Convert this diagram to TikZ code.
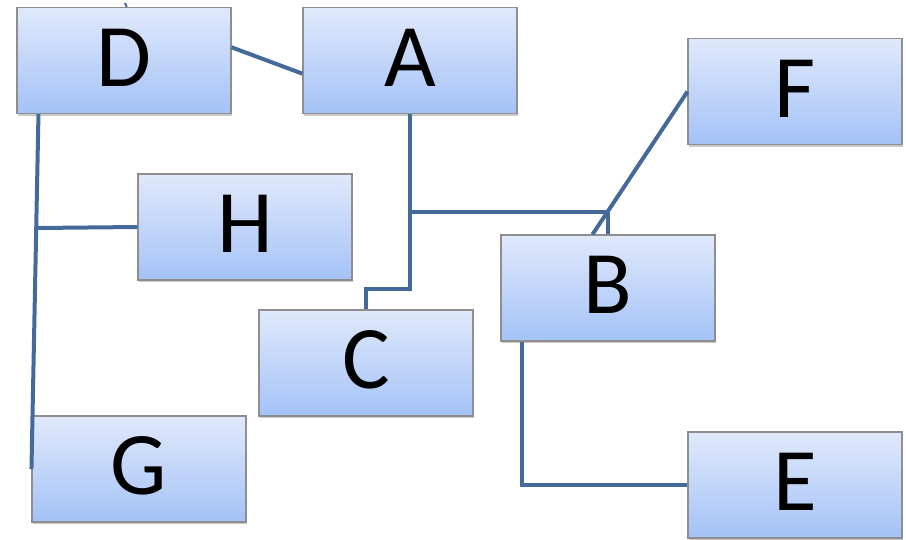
\documentclass[tikz,border=0pt]{standalone}
\usepackage{fontspec}
\setmainfont{Carlito}
\usetikzlibrary{shadows}
\definecolor{linec}{HTML}{44699B}
\definecolor{boxtop}{HTML}{E0E9FB}
\definecolor{boxbot}{HTML}{A4C2F7}
\definecolor{boxborder}{HTML}{8E8E8E}
\tikzset{
  box/.style={draw=boxborder, line width=0.8pt, top color=boxtop, bottom color=boxbot,
    minimum width=160.5pt, minimum height=79.5pt, inner sep=0pt, text depth=4.5pt,
    font=\fontsize{67}{67}\selectfont,
    drop shadow={opacity=0.35, shadow xshift=1pt, shadow yshift=-1.5pt, fill=black!60}},
  conn/.style={draw=linec, line width=3pt},
}
\begin{document}
\begin{tikzpicture}[x=0.75pt,y=-0.75pt]
\useasboundingbox (0,0) rectangle (906,539);
\node[box] (D) at (124,60.5) {D};
\node[box] (A) at (410,60.5) {A};
\node[box] (F) at (795,91.5) {F};
\node[box] (H) at (245,227) {H};
\node[box] (B) at (608,288) {B};
\node[box] (C) at (366,363) {C};
\node[box] (G) at (139,469) {G};
\node[box] (E) at (795,485) {E};
\coordinate (dt) at (125,3);
\coordinate (dbot) at ([xshift=16.5pt]D.south west);
\coordinate (ac) at (410,289);
\coordinate (j1) at (410,212);
\coordinate (j2) at (B.north |- j1);
\coordinate (hj) at (37.5,228);
\draw[conn] (D.7.7) -- (A.187);
\draw[conn] (dbot) -- (G.west);
\draw[conn] (hj) -- (H.west);
\draw[conn] (A.south) -- (ac) -| (C.north);
\draw[conn] (j1) -- (j2) -- (B.north);
\draw[conn] (F.west) -- ([xshift=69pt]B.north west);
\draw[conn] ([xshift=16.5pt]B.south west) |- (E.west);
\draw[draw=linec, line width=1.5pt] (dt) -- ([xshift=2pt]D.north);
\end{tikzpicture}
\end{document}
